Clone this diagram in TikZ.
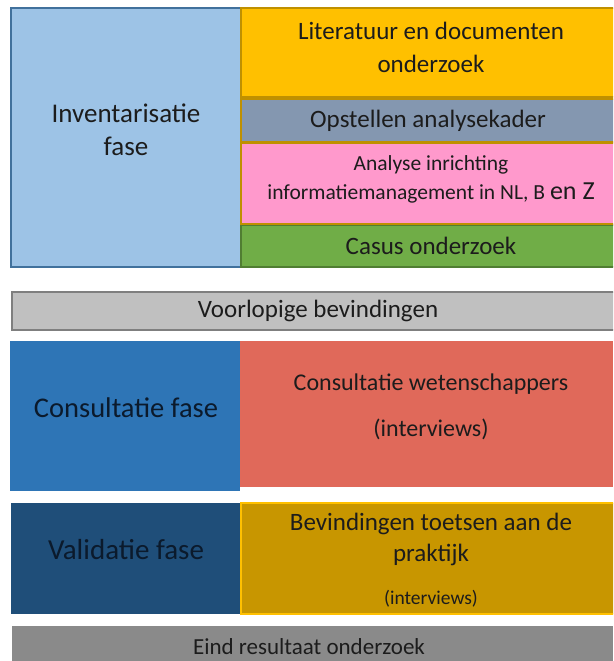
\documentclass[tikz,border=0pt]{standalone}
\usepackage{fontspec}
\setmainfont{Carlito}
\definecolor{invfill}{HTML}{9DC3E6}
\definecolor{invline}{HTML}{41719C}
\definecolor{goldline}{HTML}{BF9000}
\definecolor{litfill}{HTML}{FFC000}
\definecolor{opsfill}{HTML}{8497B0}
\definecolor{anafill}{HTML}{FF99CC}
\definecolor{casfill}{HTML}{70AD47}
\definecolor{casline}{HTML}{507E32}
\definecolor{voorfill}{HTML}{C0C0C0}
\definecolor{voorline}{HTML}{7F7F7F}
\definecolor{confill}{HTML}{2E75B6}
\definecolor{wetfill}{HTML}{E0695A}
\definecolor{valfill}{HTML}{1F4E79}
\definecolor{bevfill}{HTML}{C89600}
\definecolor{bevline}{HTML}{FFC000}
\definecolor{eindfill}{HTML}{8A8A8A}
\definecolor{ink}{HTML}{1C1C1C}
\definecolor{navyink}{HTML}{0B1A2C}
\tikzset{
  phase/.style={line width=2.5pt},
  label/.style={text=ink, align=center, inner sep=0pt, font=\fontsize{25}{33}\selectfont},
}
\begin{document}
\begin{tikzpicture}[x=1pt,y=-1pt]
\clip (0,0) rectangle (613,661);
\fill[white] (0,0) rectangle (613,661);

% inventory phase and its four activities
\draw[phase, fill=invfill, draw=invline] (11,8) rectangle (241,267);
\draw[phase, fill=litfill, draw=goldline] (241,8) rectangle (616,97);
\draw[phase, fill=opsfill, draw=goldline] (241,99) rectangle (616,142);
\draw[phase, fill=casfill, draw=casline] (241,225) rectangle (616,267);
\draw[phase, fill=anafill, draw=goldline] (241,143) rectangle (616,224);

\node[label, font=\fontsize{27}{33}\selectfont] (inv) at (126,130) {Inventarisatie\\fase};
\node[label] (lit) at (431,47) {Literatuur en documenten\\onderzoek};
\node[label] (ops) at (428,121) {Opstellen analysekader};
\node[label, font=\fontsize{21.5}{29}\selectfont] (ana) at (431,179)
  {Analyse inrichting\\informatiemanagement in NL, B {\fontsize{26}{29}\selectfont en Z}};
\node[label] (cas) at (431,246) {Casus onderzoek};

% preliminary findings
\draw[line width=1.2pt, fill=voorfill, draw=voorline] (12,292) rectangle (616,330);
\node[label] (voor) at (318,311) {Voorlopige bevindingen};

% consultation phase
\fill[confill] (10,341) rectangle (240,491);
\fill[wetfill] (240,341) rectangle (613,487);
\node[label, text=navyink, font=\fontsize{28.5}{33}\selectfont] (con) at (126,408) {Consultatie fase};
\node[label, font=\fontsize{24}{46}\selectfont] (wet) at (431,407)
  {Consultatie wetenschappers\\(interviews)};

% validation phase
\fill[valfill] (11,503) rectangle (240,614);
\draw[line width=2pt, fill=bevfill, draw=bevline] (241,503) rectangle (616,614);
\node[label, text=navyink, font=\fontsize{29}{33}\selectfont] (val) at (126,550) {Validatie fase};
\node[label, font=\fontsize{25}{31}\selectfont] (bev) at (431,539)
  {Bevindingen toetsen aan de\\praktijk};
\node[label, font=\fontsize{19.5}{22}\selectfont] (bevi) at (431,599) {(interviews)};

% final result
\fill[eindfill] (12,626) rectangle (613,661);
\node[label, font=\fontsize{23}{33}\selectfont] (eind) at (309,647) {Eind resultaat onderzoek};
\end{tikzpicture}
\end{document}
